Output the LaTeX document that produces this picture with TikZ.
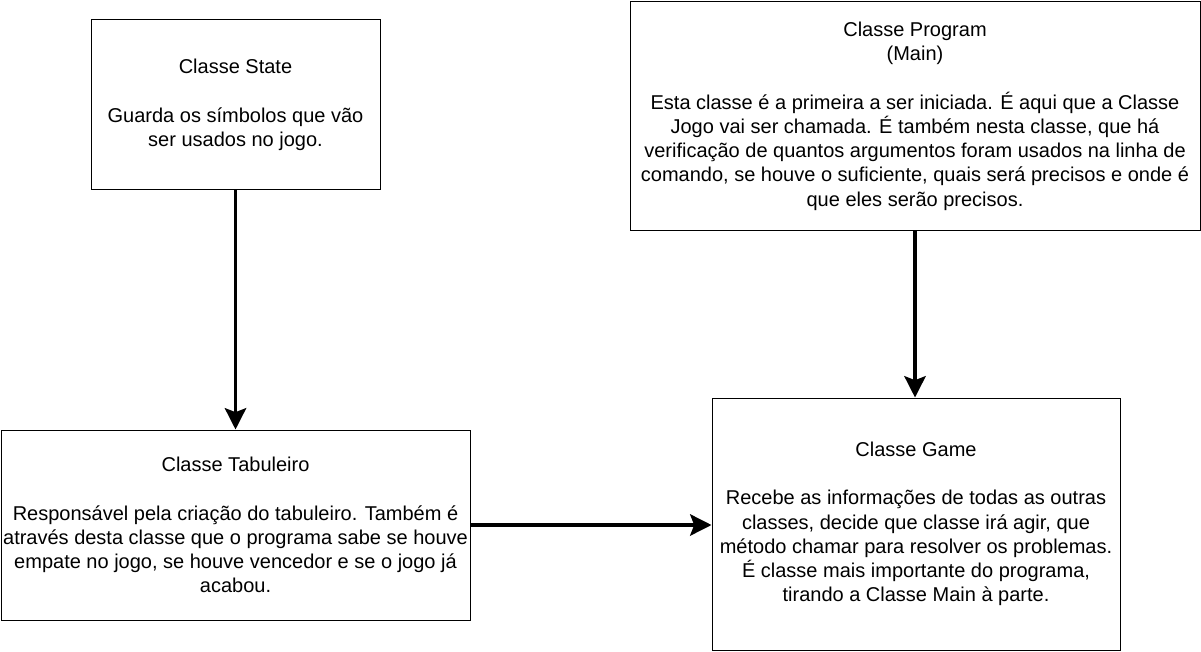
\documentclass[tikz,border=0pt]{standalone}
\usepackage{fontspec}
\setmainfont{Liberation Sans}
\usepackage{tikz}
\usetikzlibrary{arrows.meta,positioning}

\begin{document}
\begin{tikzpicture}[
    x=0.75pt, y=-0.75pt,
    every node/.style={align=center},
    box/.style={
        rectangle,
        draw=black,
        line width=0.75pt,
        inner sep=0pt,
        font=\fontsize{15}{18.2}\selectfont
    },
    link/.style={
        -{Stealth[length=16pt, width=16pt, inset=3pt]},
        line width=2.6pt
    }
]
\useasboundingbox (0,0) rectangle (1201,652);

\node[box, minimum width=216.75pt, minimum height=127.5pt] (state) at (235.5,105)
    {Classe State\\[18.2pt]Guarda os símbolos que vão\\ser usados no jogo.};
\node[box, minimum width=427.5pt, minimum height=171pt] (program) at (915,116)
    {Classe Program\\(Main)\\[18.2pt]Esta classe é a primeira a ser iniciada. É aqui que a Classe\\Jogo vai ser chamada. É também nesta classe, que há\\verificação de quantos argumentos foram usados na linha de\\comando, se houve o suficiente, quais será precisos e onde é\\que eles serão precisos.};
\node[box, minimum width=351.75pt, minimum height=142.5pt] (tabuleiro) at (235.5,525)
    {Classe Tabuleiro\\[18.2pt]Responsável pela criação do tabuleiro. Também é\\através desta classe que o programa sabe se houve\\empate no jogo, se houve vencedor e se o jogo já\\acabou.};
\node[box, minimum width=306pt, minimum height=189pt] (game) at (916,524)
    {Classe Game\\[18.2pt]Recebe as informações de todas as outras\\classes, decide que classe irá agir, que\\método chamar para resolver os problemas.\\É classe mais importante do programa,\\tirando a Classe Main à parte.};

\draw[link] (state) -- (tabuleiro);
\draw[link] (program.south) -- (program.south |- game.north);
\draw[link] (tabuleiro.east) -- (tabuleiro.east -| game.west);
\end{tikzpicture}
\end{document}
